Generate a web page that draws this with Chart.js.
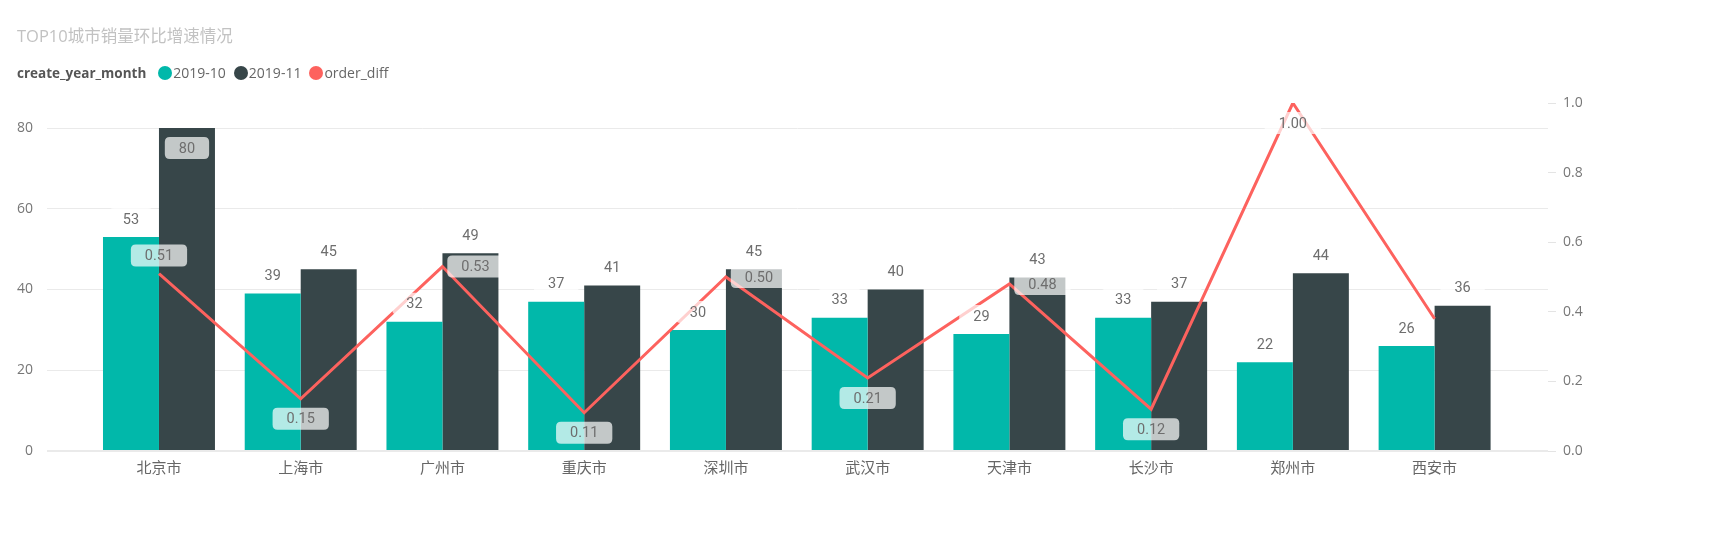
<!DOCTYPE html>
<html>
<head>
<meta charset="utf-8">
<script src="https://cdn.jsdelivr.net/npm/chart.js@4/dist/chart.umd.min.js"></script>
<style>
  body { margin: 0; background: #fff; }
  #wrap { position: relative; width: 1727px; height: 544px; }
  #chart { position: absolute; left: 0; top: 0; }
  .title { position: absolute; left: 17px; top: 25px; font: 16.5px 'Open Sans', 'Noto Sans CJK SC', sans-serif; color: #c2c2c2; line-height: 22px; }
  .legend { position: absolute; left: 17px; top: 63px; font: 14px 'Open Sans', 'Noto Sans', sans-serif; color: #666; line-height: 20px; display: flex; align-items: center; }
  .legend b { color: #555; font-weight: 700; font-size: 13.5px; margin-right: 12px; }
  .legend .dot { width: 14px; height: 14px; border-radius: 50%; display: inline-block; margin-right: 1px; }
  .legend .item { display: flex; align-items: center; margin-right: 8px; }
</style>
</head>
<body>
<div id="wrap">
  <canvas id="chart" width="1727" height="544"></canvas>
  <div class="title">TOP10城市销量环比增速情况</div>
  <div class="legend" id="legend"></div>
</div>
<script>
// DATA
const CITIES = ['北京市', '上海市', '广州市', '重庆市', '深圳市', '武汉市', '天津市', '长沙市', '郑州市', '西安市'];
const ORDERS_2019_10 = [53, 39, 32, 37, 30, 33, 29, 33, 22, 26];
const ORDERS_2019_11 = [80, 45, 49, 41, 45, 40, 43, 37, 44, 36];
const ORDER_DIFF = [0.51, 0.15, 0.53, 0.11, 0.50, 0.21, 0.48, 0.12, 1.00, 0.38];
const LEFT_TICKS = [0, 20, 40, 60, 80];
const RIGHT_TICKS = [0, 0.2, 0.4, 0.6, 0.8, 1.0];

// where each order_diff label sits (null = hidden, like the original)
const DIFF_LABEL_SIDE = ['top', 'bottom', 'right', 'bottom', 'right', 'bottom', 'right', 'bottom', 'bottom', null];

const COLORS = {teal: '#01B8AA', dark: '#374649', red: '#FD625E'};

// legend (html)
const legendEl = document.getElementById('legend');
legendEl.innerHTML = '<b>create_year_month</b>' +
  [['2019-10', COLORS.teal], ['2019-11', COLORS.dark], ['order_diff', COLORS.red]]
    .map(([t, c]) => '<span class="item"><span class="dot" style="background:' + c + '"></span>' + t + '</span>')
    .join('');

const toPoints = (arr) => arr.map((v, i) => ({x: i, y: v}));

// DATA LABELS
const roundRect = (ctx, x, y, w, h, r) => {
  ctx.beginPath();
  ctx.moveTo(x + r, y);
  ctx.lineTo(x + w - r, y);
  ctx.quadraticCurveTo(x + w, y, x + w, y + r);
  ctx.lineTo(x + w, y + h - r);
  ctx.quadraticCurveTo(x + w, y + h, x + w - r, y + h);
  ctx.lineTo(x + r, y + h);
  ctx.quadraticCurveTo(x, y + h, x, y + h - r);
  ctx.lineTo(x, y + r);
  ctx.quadraticCurveTo(x, y, x + r, y);
  ctx.closePath();
};

const drawLabel = (ctx, text, cx, cy) => {
  ctx.font = '14.5px Roboto, sans-serif';
  const w = ctx.measureText(text).width + 28;
  const h = 22;
  ctx.fillStyle = 'rgba(255,255,255,0.7)';
  roundRect(ctx, cx - w / 2, cy - h / 2, w, h, 5);
  ctx.fill();
  ctx.fillStyle = '#6e6e6e';
  ctx.textAlign = 'center';
  ctx.textBaseline = 'middle';
  ctx.fillText(text, cx, cy + 1);
};

const labelPlugin = {
  id: 'labels',
  afterDatasetsDraw(chart) {
    const ctx = chart.ctx;
    const area = chart.chartArea;
    ctx.save();
    chart.data.datasets.forEach((ds, di) => {
      const meta = chart.getDatasetMeta(di);
      meta.data.forEach((el, i) => {
        const v = ds.data[i].y;
        if (ds.type === 'bar') {
          let cy = el.y - 18;
          if (cy - 11 < area.top + 5) cy = el.y + 20;
          drawLabel(ctx, String(v), el.x, cy);
        } else {
          const side = DIFF_LABEL_SIDE[i];
          if (!side) return;
          let cx = el.x, cy = el.y;
          if (side === 'top') cy -= 18;
          if (side === 'bottom') cy += 20;
          if (side === 'right') cx += 33;
          drawLabel(ctx, v.toFixed(2), cx, cy);
        }
      });
    });
    ctx.restore();
  }
};

new Chart(document.getElementById('chart'), {
  data: {
    datasets: [{
      type: 'line',
      label: 'order_diff',
      data: toPoints(ORDER_DIFF),
      yAxisID: 'y1',
      borderColor: COLORS.red,
      borderWidth: 3,
      pointRadius: 0,
      tension: 0,
      order: 0
    }, {
      type: 'bar',
      label: '2019-10',
      data: toPoints(ORDERS_2019_10),
      yAxisID: 'y',
      backgroundColor: COLORS.teal,
      categoryPercentage: 0.79,
      barPercentage: 1.0,
      order: 1
    }, {
      type: 'bar',
      label: '2019-11',
      data: toPoints(ORDERS_2019_11),
      yAxisID: 'y',
      backgroundColor: COLORS.dark,
      categoryPercentage: 0.79,
      barPercentage: 1.0,
      order: 1
    }]
  },
  options: {
    responsive: false,
    animation: false,
    layout: { padding: { top: 103 } },
    plugins: {
      legend: { display: false },
      tooltip: { enabled: false }
    },
    scales: {
      x: {
        type: 'linear',
        min: -0.79,
        max: 9.8,
        offset: false,
        grid: { display: false, drawTicks: false, offset: false },
        border: { display: false },
        afterFit: (s) => { s.height = 93; },
        ticks: {
          stepSize: 1,
          includeBounds: false,
          autoSkip: false,
          maxRotation: 0,
          padding: 7,
          color: '#666',
          font: { family: "'Noto Sans CJK SC', sans-serif", size: 15 },
          callback: (v) => (Number.isInteger(v) && CITIES[v]) ? CITIES[v] : ''
        }
      },
      y: {
        position: 'left',
        min: 0,
        max: 86.2,
        afterFit: (s) => { s.width = 47; },
        afterBuildTicks: (s) => { s.ticks = LEFT_TICKS.map(v => ({value: v})); },
        grid: {
          color: '#eaeaea',
          lineWidth: (c) => c.tick && c.tick.value === 0 ? 2 : 1,
          drawTicks: false
        },
        border: { display: false },
        ticks: {
          padding: 14,
          color: '#777',
          font: { family: "'Open Sans', sans-serif", size: 14 }
        }
      },
      y1: {
        position: 'right',
        min: 0,
        max: 1.0,
        afterFit: (s) => { s.width = 179; },
        afterBuildTicks: (s) => { s.ticks = RIGHT_TICKS.map(v => ({value: v})); },
        grid: {
          drawOnChartArea: false,
          drawTicks: true,
          tickLength: 8,
          color: '#e4e4e4'
        },
        border: { display: false },
        ticks: {
          padding: 7,
          color: '#777',
          font: { family: "'Open Sans', sans-serif", size: 14 },
          callback: (v) => Number(v).toFixed(1)
        }
      }
    }
  },
  plugins: [labelPlugin]
});
</script>
</body>
</html>
